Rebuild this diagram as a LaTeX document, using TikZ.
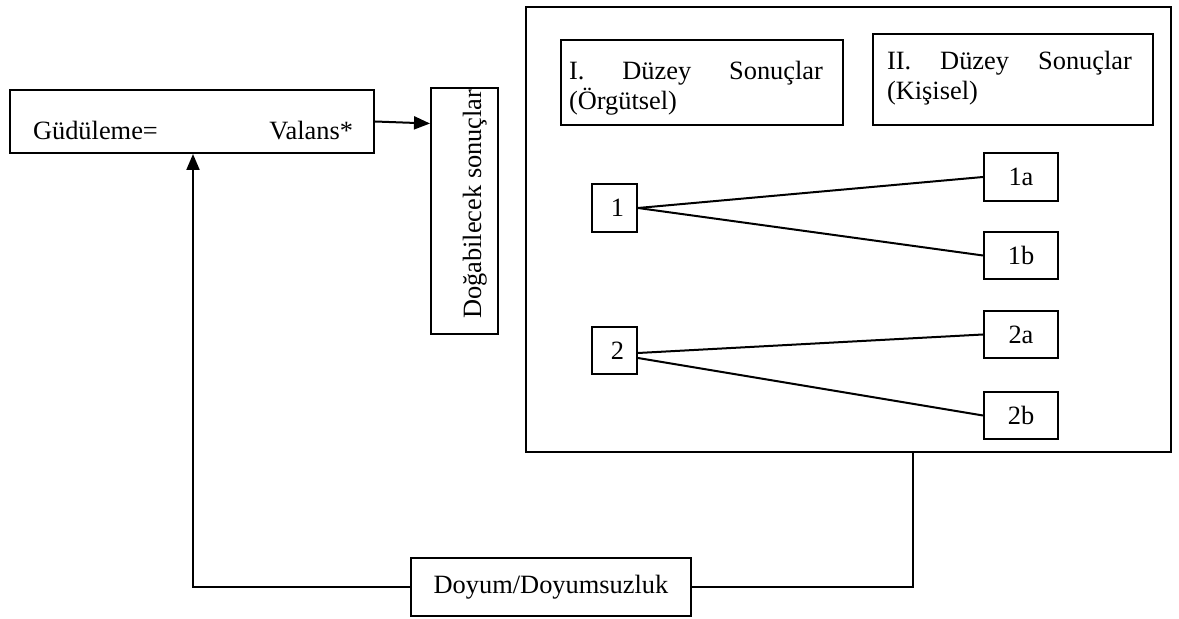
\documentclass[tikz,border=0pt]{standalone}
\usepackage{fontspec}
\setmainfont{Liberation Serif}
\usetikzlibrary{arrows.meta}
\begin{document}
\begin{tikzpicture}[x=0.5pt,y=-0.5pt,line width=1pt,
  box/.style={draw,line width=1pt,inner sep=0pt,fill=white},
  lbl/.style={font=\fontsize{13.2}{15}\selectfont,inner sep=0pt},
  small/.style={box,minimum width=37pt,minimum height=24pt,font=\fontsize{13.2}{15}\selectfont},
  arr/.style={-{Triangle[length=8pt,width=6.5pt]}}]
\useasboundingbox (0,0) rectangle (1179,619);
% big frame and boxes
\node[box,minimum width=322.5pt,minimum height=222.5pt] (big) at (848.5,229.5) {};
\node[box,minimum width=182pt,minimum height=31.5pt] (mot) at (192,121.5) {};
\node[box,minimum width=33.5pt,minimum height=123pt] (vert) at (464.5,211) {};
\node[box,minimum width=141pt,minimum height=42.5pt] (b1) at (702,82.5) {};
\node[box,minimum width=140pt,minimum height=45.5pt] (b2) at (1013,79.5) {};
\node[box,minimum width=140pt,minimum height=29pt,font=\fontsize{13.2}{15}\selectfont] (doy) at (551,587) {Doyum/Doyumsuzluk};
% texts
\node[lbl,anchor=base west] (g) at (32,140) {Güdüleme=};
\node[lbl,anchor=base east] (v) at (354,140) {Valans*};
\node[lbl,anchor=base west] (t1) at (568,80) {\parbox[t]{127pt}{I.\hfill Düzey\hfill Sonuçlar\\(Örgütsel)}};
\node[lbl,anchor=base west] (t2) at (886,70) {\parbox[t]{122.5pt}{II.\hfill Düzey\hfill Sonuçlar\\(Kişisel)}};
\begin{scope}
\clip (vert.north west) rectangle (vert.south east);
\node[lbl,rotate=90,anchor=base west] (vt) at (481,320) {Doğabilecek sonuçlar};
\end{scope}
% small nodes
\node[small,minimum width=22.5pt] (n1) at (614.5,208) {\hspace{3pt}1};
\node[small] (n1a) at (1021,177) {1a};
\node[small,minimum height=23.5pt] (n1b) at (1021,255.5) {1b};
\node[small,minimum width=22.5pt,minimum height=23.5pt] (n2) at (614.5,350.5) {\hspace{3pt}2};
\node[small,minimum height=23.5pt] (n2a) at (1021,334.5) {2a};
\node[small,minimum height=23.5pt] (n2b) at (1021,415.5) {2b};
% connectors
\draw (n1.east) -- (n1a.west);
\draw (n1.east) -- (n1b.west);
\draw ([yshift=-1.25pt]n2.east) -- (n2a.west);
\draw ([yshift=-3.75pt]n2.east) -- (n2b.west);
\draw[arr] (mot.east) -- ([yshift=-1pt]mot.east -| vert.west);
\coordinate (fr) at (913,586);
\coordinate (fl) at (193,586);
\draw (big.south -| fr) |- (doy.east);
\draw[arr] (doy.west) -| (mot.south -| fl);
\end{tikzpicture}
\end{document}
